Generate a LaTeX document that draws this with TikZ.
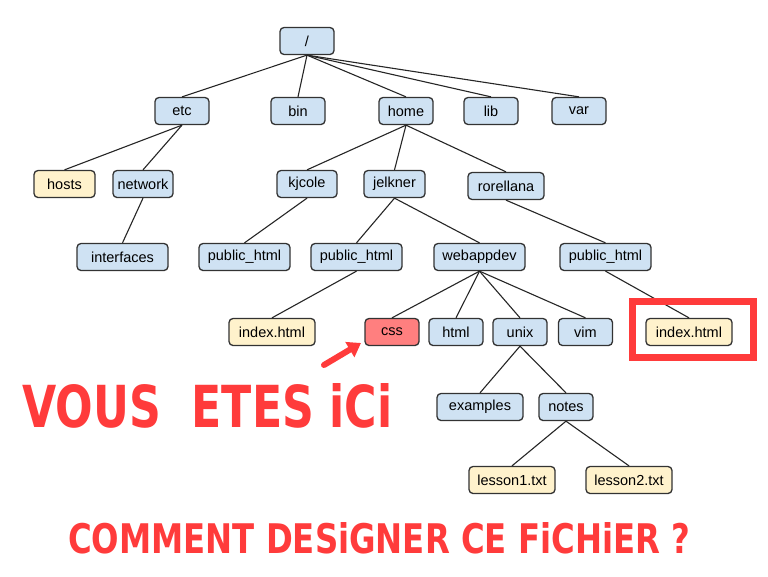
\documentclass[tikz,border=0pt]{standalone}
\usepackage{fontspec}
\setmainfont{Liberation Sans}
\newfontfamily\redfont{DejaVu Sans}
\usetikzlibrary{arrows.meta}
\definecolor{boxblue}{HTML}{CFE2F3}
\definecolor{boxyellow}{HTML}{FFF2CC}
\definecolor{boxred}{HTML}{FF7F7F}
\definecolor{redmark}{RGB}{255,59,59}
\definecolor{edgegray}{HTML}{333333}
\tikzset{
  dirbox/.style={draw=edgegray, line width=1.3pt, rounded corners=4pt, fill=boxblue,
    minimum height=27pt, inner sep=0pt, font=\fontsize{14.5}{16}\selectfont},
  filebox/.style={dirbox, fill=boxyellow},
  herebox/.style={dirbox, fill=boxred},
  link/.style={draw=black!85, line width=1.1pt},
  bigred/.style={text=redmark, inner sep=0pt, font=\redfont\bfseries},
}
\begin{document}
\begin{tikzpicture}[x=1pt,y=-1pt]
\useasboundingbox[fill=white] (0,0) rectangle (768,576);
% level 0
\node[dirbox, minimum width=54pt] (root) at (307,41) {/};
% level 1
\node[dirbox, minimum width=54pt] (etc) at (182,111) {etc};
\node[dirbox, minimum width=54pt] (bin) at (298,111) {bin};
\node[dirbox, minimum width=54pt] (home) at (406,111) {home};
\node[dirbox, minimum width=54pt] (lib) at (491,111) {lib};
\node[dirbox, minimum width=54pt] (var) at (579,111) {var};
% level 2
\node[filebox, minimum width=61pt] (hosts) at (64.5,184) {hosts};
\node[dirbox, minimum width=60pt] (network) at (143,184) {network};
\node[dirbox, minimum width=60pt] (kjcole) at (307,184) {kjcole};
\node[dirbox, minimum width=61pt] (jelkner) at (394.5,184) {jelkner};
\node[dirbox, minimum width=76pt] (rorellana) at (506,186) {rorellana};
% level 3
\node[dirbox, minimum width=91pt] (interfaces) at (122.5,257) {interfaces};
\node[dirbox, minimum width=91pt] (pubk) at (244.5,257) {public\_html};
\node[dirbox, minimum width=91pt] (pubj) at (356.5,257) {public\_html};
\node[dirbox, minimum width=91pt] (webappdev) at (479.5,257) {webappdev};
\node[dirbox, minimum width=91pt] (pubr) at (605.5,257) {public\_html};
% level 4
\node[filebox, minimum width=86pt] (indexj) at (272,332) {index.html};
\node[herebox, minimum width=54pt] (css) at (392,332) {css};
\node[dirbox, minimum width=54pt] (html) at (456,332) {html};
\node[dirbox, minimum width=54pt] (unix) at (520,332) {unix};
\node[dirbox, minimum width=54pt] (vim) at (585.5,332) {vim};
\node[filebox, minimum width=86pt] (indexr) at (689,332) {index.html};
% level 5
\node[dirbox, minimum width=86pt] (examples) at (480,407) {examples};
\node[dirbox, minimum width=54pt] (notes) at (566,407) {notes};
% level 6
\node[filebox, minimum width=86pt] (lesson1) at (512,480) {lesson1.txt};
\node[filebox, minimum width=86pt] (lesson2) at (629,480) {lesson2.txt};
% connectors
\foreach \p/\c in {root/etc, root/bin, root/home, root/lib, root/var,
  etc/hosts, etc/network, network/interfaces,
  home/kjcole, home/jelkner, home/rorellana,
  kjcole/pubk, jelkner/pubj, jelkner/webappdev, rorellana/pubr,
  pubj/indexj, pubr/indexr,
  webappdev/css, webappdev/html, webappdev/unix, webappdev/vim,
  unix/examples, unix/notes, notes/lesson1, notes/lesson2}
  \draw[link] (\p.south) -- (\c.north);
% highlight frame
\node[draw=redmark, line width=7pt, minimum width=121pt, minimum height=56pt, inner sep=0pt] (frame) at (693,329.5) {};
% arrow
\coordinate (arrowtail) at (324,365);
\coordinate (arrowtip) at (361,343);
\draw[redmark, line width=6pt, line cap=round, -{Triangle[width=17pt,length=13pt]}] (arrowtail) -- (arrowtip);
% texts
\node[bigred, anchor=north west] (here) at (22,383) {\resizebox{370pt}{44pt}{VOUS\ \ ETES iCi}};
\node[bigred, anchor=north west] (question) at (68,522) {\resizebox{622pt}{31pt}{COMMENT DESiGNER CE FiCHiER ?}};
\end{tikzpicture}
\end{document}
